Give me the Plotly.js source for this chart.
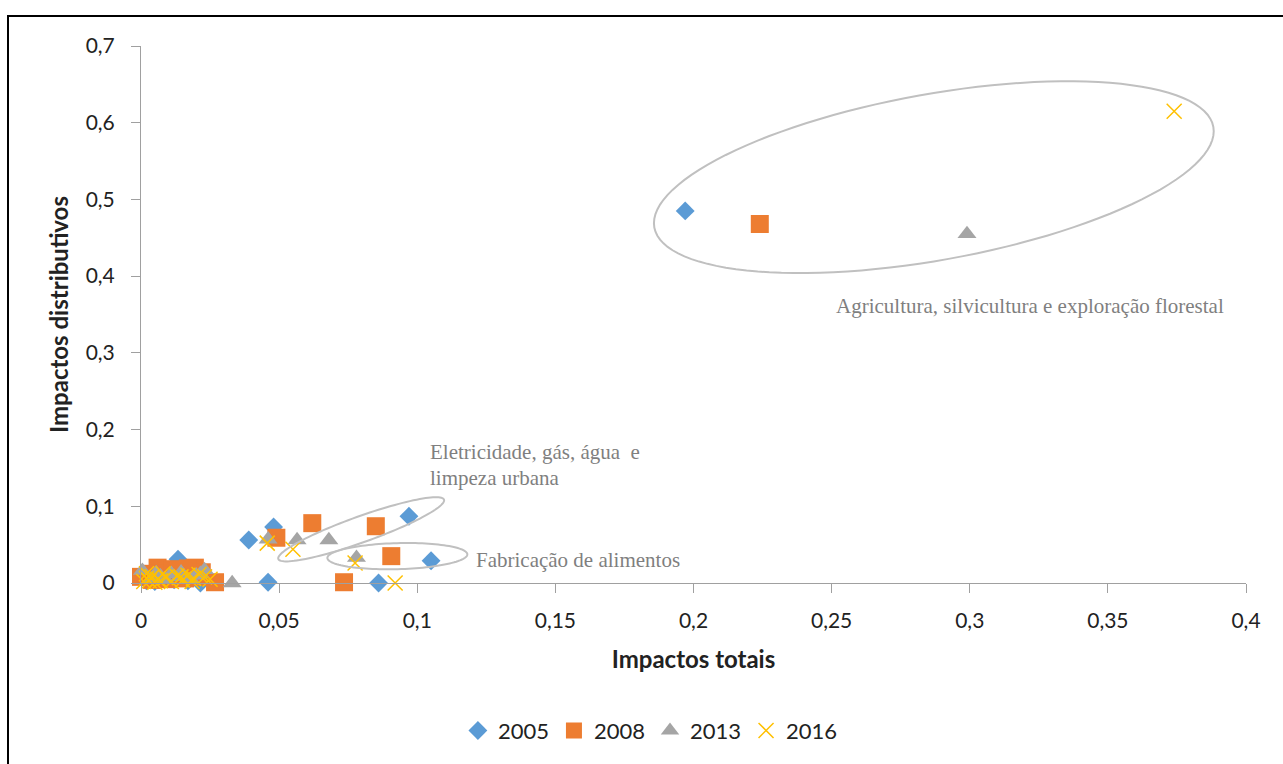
<!DOCTYPE html>
<html>
<head>
<meta charset="utf-8">
<script src="https://cdn.plot.ly/plotly-3.0.1.min.js"></script>
<style>
html,body{margin:0;padding:0;background:#fff;overflow:hidden;}
#chart{width:1283px;height:764px;}
</style>
</head>
<body>
<div id="chart"></div>
<script>
// ---- Data ----
const seriesNames = ['2005', '2008', '2013', '2016'];

const x2005 = [0.197, 0.048, 0.039, 0.097, 0.105, 0.046, 0.086, 0.0134, 0.0215, 0.002, 0.005, 0.008, 0.012, 0.017];
const y2005 = [0.485, 0.073, 0.056, 0.087, 0.029, 0.001, 0.000, 0.031, 0.000, 0.003, 0.002, 0.006, 0.004, 0.003];

const x2008 = [0.224, 0.062, 0.085, 0.049, 0.0906, 0.0735, 0.0268, 0.000, 0.006, 0.012, 0.0195, 0.004, 0.010, 0.016, 0.021, 0.008, 0.0115, 0.017, 0.022, 0.003];
const y2008 = [0.468, 0.078, 0.074, 0.059, 0.035, 0.001, 0.001, 0.008, 0.020, 0.018, 0.020, 0.004, 0.005, 0.006, 0.008, 0.012, 0.017, 0.019, 0.014, 0.012];

const x2013 = [0.299, 0.068, 0.0565, 0.046, 0.078, 0.033, 0.0005, 0.023, 0.004, 0.009, 0.014, 0.018, 0.011, 0.020, 0.007, 0.0055, 0.0145, 0.0215];
const y2013 = [0.455, 0.056, 0.056, 0.057, 0.033, 0.000, 0.016, 0.017, 0.006, 0.004, 0.008, 0.005, 0.012, 0.010, 0.009, 0.013, 0.014, 0.012];

const x2016 = [0.374, 0.0457, 0.055, 0.0775, 0.092, 0.001, 0.002, 0.003, 0.004, 0.005, 0.006, 0.007, 0.009, 0.011, 0.013, 0.015, 0.017, 0.019, 0.021, 0.023, 0.008, 0.002, 0.025, 0.0145, 0.0185];
const y2016 = [0.615, 0.052, 0.044, 0.026, 0.000, 0.002, 0.006, 0.003, 0.008, 0.001, 0.005, 0.003, 0.007, 0.002, 0.009, 0.004, 0.010, 0.006, 0.011, 0.008, 0.012, 0.012, 0.005, 0.008, 0.002];

const xTickVals = [0, 0.05, 0.1, 0.15, 0.2, 0.25, 0.3, 0.35, 0.4];
const yTickVals = [0, 0.1, 0.2, 0.3, 0.4, 0.5, 0.6, 0.7];

const groupLabels = [
  'Agricultura, silvicultura e exploração florestal',
  'Eletricidade, gás, água  e',
  'limpeza urbana',
  'Fabricação de alimentos'
];

// ---- Layout geometry ----
const W = 1283, H = 764;
const M = {l: 141, r: 37, t: 46, b: 181};
const xRange = [0, 0.4], yRange = [0, 0.7];
const plotW = W - M.l - M.r, plotH = H - M.t - M.b;
const pxX = plotW / (xRange[1] - xRange[0]);
const pxY = plotH / (yRange[1] - yRange[0]);

// ellipse: center in data units, semi-axes in pixels, angle in degrees (screen, counter-clockwise)
function ellipsePath(cx, cy, a, b, angDeg) {
  const th = angDeg * Math.PI / 180;
  let d = '';
  const n = 120;
  for (let i = 0; i <= n; i++) {
    const t = 2 * Math.PI * i / n;
    const dxp = a * Math.cos(t) * Math.cos(th) - b * Math.sin(t) * Math.sin(th);
    const dyp = a * Math.cos(t) * Math.sin(th) + b * Math.sin(t) * Math.cos(th);
    const x = cx + dxp / pxX;
    const y = cy + dyp / pxY;
    d += (i === 0 ? 'M' : 'L') + x.toFixed(6) + ',' + y.toFixed(6);
  }
  return d + 'Z';
}

const ellipseStyle = {color: '#c0c0c0', width: 2};

const traces = [
  {x: x2005, y: y2005, name: seriesNames[0], type: 'scatter', mode: 'markers', cliponaxis: false,
   marker: {symbol: 'diamond', size: 14.5, color: '#5B9BD5'}},
  {x: x2008, y: y2008, name: seriesNames[1], type: 'scatter', mode: 'markers', cliponaxis: false,
   marker: {symbol: 'square', size: 18, color: '#ED7D31'}},
  {x: x2013, y: y2013, name: seriesNames[2], type: 'scatter', mode: 'markers', cliponaxis: false,
   marker: {symbol: 'triangle-up', size: 16.5, color: '#A5A5A5'}},
  {x: x2016, y: y2016, name: seriesNames[3], type: 'scatter', mode: 'markers', cliponaxis: false,
   marker: {symbol: 'x-thin', size: 15, color: '#FFC000', line: {color: '#FFC000', width: 1.5}}}
];

const annFont = {family: '"Liberation Serif", "Times New Roman", serif', size: 21, color: '#7f7f7f'};

const layout = {
  width: W, height: H,
  margin: M,
  paper_bgcolor: '#ffffff',
  plot_bgcolor: '#ffffff',
  separators: ',.',
  font: {family: 'Lato, "Open Sans", sans-serif', color: '#222'},
  showlegend: true,
  legend: {orientation: 'h', x: 0.461, xanchor: 'center', y: -0.275, yanchor: 'middle',
           font: {size: 22, color: '#222'}, traceorder: 'normal', itemwidth: 30},
  xaxis: {
    range: xRange, tickvals: xTickVals, showgrid: false, zeroline: false,
    showline: true, linecolor: '#a0a0a0', linewidth: 1,
    ticks: 'outside', ticklen: 9, tickcolor: '#a0a0a0',
    ticklabelstandoff: 10,
    tickfont: {size: 21, color: '#222'},
    title: {text: 'Impactos totais', font: {size: 24, color: '#222', weight: 'bold'}, standoff: 19},
    automargin: false, fixedrange: true
  },
  yaxis: {
    range: yRange, tickvals: yTickVals, showgrid: false, zeroline: false,
    showline: true, linecolor: '#a0a0a0', linewidth: 1,
    ticks: 'outside', ticklen: 9, tickcolor: '#a0a0a0',
    ticklabelstandoff: 12,
    tickfont: {size: 21, color: '#222'},
    title: {text: 'Impactos distributivos', font: {size: 24, color: '#222', weight: 'bold'}, standoff: 10},
    automargin: false, fixedrange: true
  },
  shapes: [
    {type: 'path', xref: 'x', yref: 'y', path: ellipsePath(0.287, 0.529, 284, 83, 10.2), line: ellipseStyle},
    {type: 'path', xref: 'x', yref: 'y', path: ellipsePath(0.0797, 0.070, 88, 13, 19.7), line: ellipseStyle},
    {type: 'path', xref: 'x', yref: 'y', path: ellipsePath(0.0928, 0.035, 70, 13, 1.5), line: ellipseStyle},
    // outer frame (left/top edges visible)
    {type: 'rect', xref: 'paper', yref: 'paper',
     x0: (8 - M.l) / plotW, x1: (1300 - M.l) / plotW,
     y0: (H - M.b - 790) / plotH, y1: (H - M.b - 16) / plotH,
     line: {color: '#000', width: 2}, fillcolor: 'rgba(0,0,0,0)', layer: 'below'}
  ],
  annotations: [
    {x: 0.2507, y: 0.3615, xref: 'x', yref: 'y', text: groupLabels[0], showarrow: false,
     xanchor: 'left', yanchor: 'middle', font: annFont},
    {x: 0.104, y: 0.1703, xref: 'x', yref: 'y', text: groupLabels[1], showarrow: false,
     xanchor: 'left', yanchor: 'middle', font: annFont},
    {x: 0.104, y: 0.1365, xref: 'x', yref: 'y', text: groupLabels[2], showarrow: false,
     xanchor: 'left', yanchor: 'middle', font: annFont},
    {x: 0.1207, y: 0.0299, xref: 'x', yref: 'y', text: groupLabels[3], showarrow: false,
     xanchor: 'left', yanchor: 'middle', font: annFont}
  ]
};

Plotly.newPlot('chart', traces, layout, {displayModeBar: false, staticPlot: true});
</script>
</body>
</html>
